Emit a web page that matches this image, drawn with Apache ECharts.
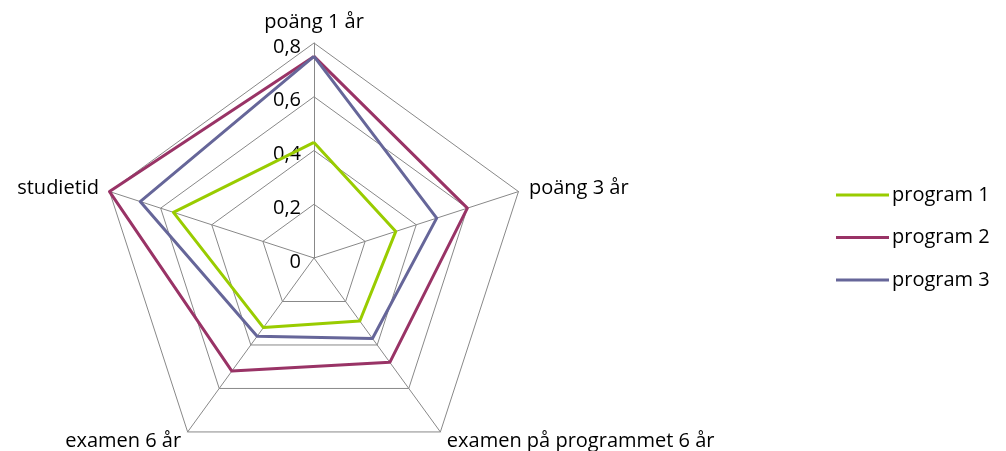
<!DOCTYPE html>
<html>
<head>
<meta charset="utf-8">
<script src="https://cdn.jsdelivr.net/npm/echarts@6/dist/echarts.min.js"></script>
<style>
html,body{margin:0;padding:0;background:#fff;}
#c{width:1006px;height:451px;}
</style>
</head>
<body>
<div id="c"></div>
<script>
// Indicators in counter-clockwise order starting at the top (ECharts radar order)
const indicators = ['poäng 1 år', 'studietid', 'examen 6 år', 'examen på programmet 6 år', 'poäng 3 år'];
const seriesNames = ['program 1', 'program 2', 'program 3'];
const program1 = [0.43, 0.55, 0.32, 0.29, 0.32];
const program2 = [0.75, 0.80, 0.52, 0.48, 0.60];
const program3 = [0.75, 0.68, 0.36, 0.37, 0.48];
const colors = ['#99CC00', '#993366', '#666699'];
const axisMax = 0.8;

const FONT = 'Open Sans';
const FS = 20;
const chart = echarts.init(document.getElementById('c'));
const values = [program1, program2, program3];

chart.setOption({
  animation: false,
  textStyle: { fontFamily: FONT },
  legend: {
    orient: 'vertical',
    left: 831,
    top: 180,
    icon: 'rect',
    itemWidth: 53,
    itemHeight: 3,
    itemGap: 22.5,
    data: seriesNames,
    textStyle: { fontFamily: FONT, fontSize: FS, color: '#000', padding: [0, 0, 0, -2] }
  },
  radar: {
    center: [314, 258],
    radius: 215,
    startAngle: 90,
    shape: 'polygon',
    splitNumber: 4,
    nameGap: 11,
    axisName: { color: '#000', fontFamily: FONT, fontSize: FS },
    splitArea: { show: false },
    splitLine: { lineStyle: { color: '#888888', width: 1 } },
    axisLine: { lineStyle: { color: '#888888', width: 1 } },
    axisTick: { show: false },
    axisLabel: { show: false },
    indicator: indicators.map((n, i) => {
      const o = { name: n, min: 0, max: axisMax };
      if (i === 0) {
        o.axisLabel = {
          show: true,
          color: '#000',
          fontFamily: FONT,
          fontSize: FS,
          margin: 13,
          formatter: v => '{t|' + String(+v.toFixed(1)).replace('.', ',') + '}',
          rich: { t: { fontFamily: FONT, fontSize: FS, color: '#000', padding: [8, 0, 0, 0] } }
        };
      }
      return o;
    })
  },
  series: [{
    type: 'radar',
    symbol: 'none',
    data: values.map((v, i) => ({
      name: seriesNames[i],
      value: v,
      lineStyle: { color: colors[i], width: 3 },
      itemStyle: { color: colors[i] }
    }))
  }]
});
</script>
</body>
</html>
